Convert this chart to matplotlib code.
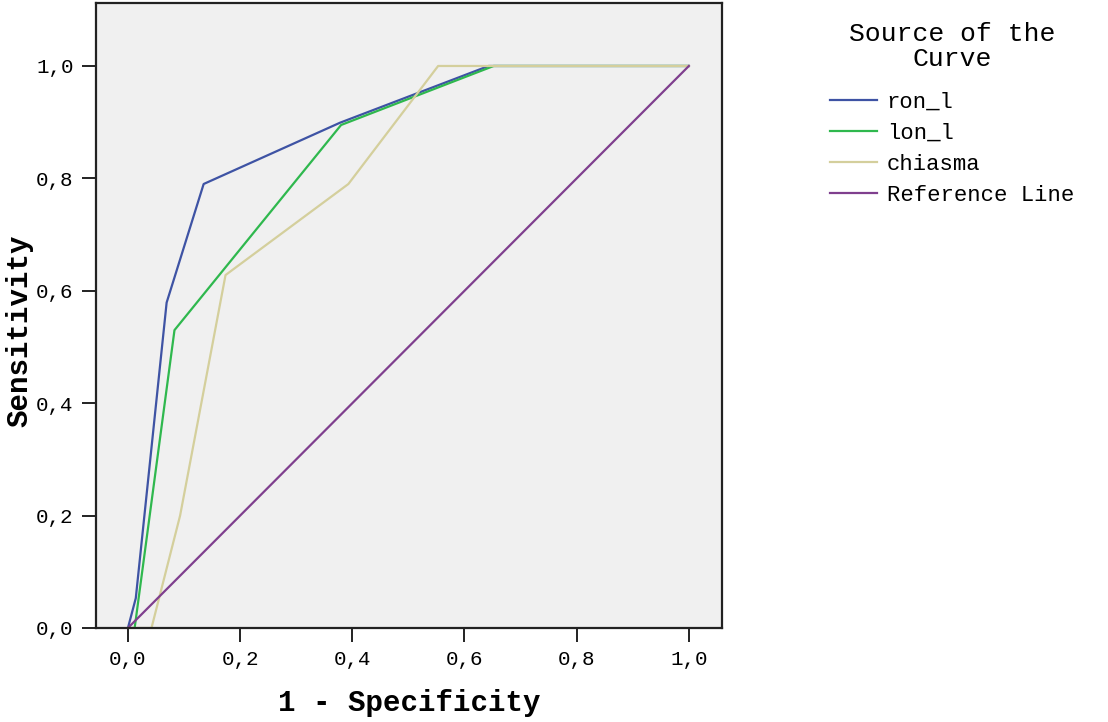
import matplotlib
matplotlib.use('Agg')
import matplotlib.pyplot as plt

# ROC curves (1 - specificity, sensitivity)
ron_fpr = [0.0, 0.014, 0.069, 0.135, 0.378, 0.643, 1.0]
ron_tpr = [0.0, 0.053, 0.579, 0.790, 0.899, 1.0, 1.0]

lon_fpr = [0.0, 0.012, 0.083, 0.380, 0.652, 1.0]
lon_tpr = [0.0, 0.0, 0.530, 0.895, 1.0, 1.0]

chi_fpr = [0.0, 0.042, 0.093, 0.174, 0.393, 0.553, 1.0]
chi_tpr = [0.0, 0.0, 0.200, 0.628, 0.790, 1.0, 1.0]

ref_fpr = [0.0, 1.0]
ref_tpr = [0.0, 1.0]

ticks = [0.0, 0.2, 0.4, 0.6, 0.8, 1.0]
tick_labels = ['0,0', '0,2', '0,4', '0,6', '0,8', '1,0']

plt.rcParams['font.family'] = ['Liberation Mono', 'DejaVu Sans Mono']

fig = plt.figure(figsize=(11.08, 7.22), dpi=100)
ax = fig.add_axes([0.0866, 0.1302, 0.565, 0.8656])
ax.set_facecolor('#f0f0f0')

ax.plot(ron_fpr, ron_tpr, color='#3e53a4', lw=1.6, label='ron_l')
ax.plot(lon_fpr, lon_tpr, color='#2fb84e', lw=1.6, label='lon_l')
ax.plot(chi_fpr, chi_tpr, color='#d4cf9c', lw=1.6, label='chiasma')
ax.plot(ref_fpr, ref_tpr, color='#7f3f8e', lw=1.6, label='Reference Line')

ax.set_xlim(-0.057, 1.059)
ax.set_ylim(0, 1.112)
ax.set_xticks(ticks)
ax.set_xticklabels(tick_labels)
ax.set_yticks(ticks)
ax.set_yticklabels(tick_labels)
ax.tick_params(direction='out', length=10, width=1.4, labelsize=15, pad=6, color='#222222')

for s in ax.spines.values():
    s.set_linewidth(1.6)
    s.set_color('#222222')

ax.set_xlabel('1 - Specificity', fontsize=21, fontweight='bold', labelpad=14)
ax.set_ylabel('Sensitivity', fontsize=21, fontweight='bold')
ax.yaxis.set_label_coords(-0.10, 0.475)

leg = ax.legend(loc='upper left', bbox_to_anchor=(830 / 1108, 1 - 22 / 722),
                bbox_transform=fig.transFigure, frameon=False,
                title='Source of the\nCurve', fontsize=16, title_fontsize=19,
                handlelength=2.1, handletextpad=0.45, labelspacing=0.45,
                borderpad=0, borderaxespad=0)
leg.get_title().set_multialignment('center')
leg.get_title().set_linespacing(1.05)
leg._legend_box.sep = 15

fig.savefig('out.png', dpi=100)
